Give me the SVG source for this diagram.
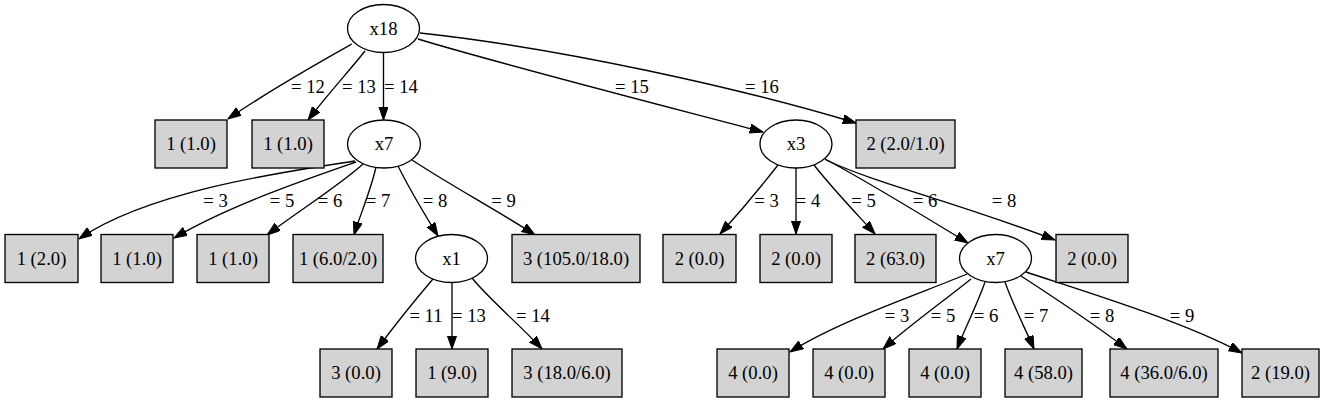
<svg xmlns="http://www.w3.org/2000/svg" width="1328" height="403" viewBox="0 0 1328 403">
<style>
text{font-family:"Liberation Serif","Times New Roman",serif;font-size:18.67px;fill:#000;text-anchor:middle}
.n ellipse{fill:#fff;stroke:#000;stroke-width:1.33}
.n rect{fill:#d3d3d3;stroke:#000;stroke-width:1.33}
#edges path{fill:none;stroke:#000;stroke-width:1.33;marker-end:url(#ah)}
</style>
<defs>
<marker id="ah" markerUnits="userSpaceOnUse" markerWidth="14" markerHeight="10" refX="13.33" refY="4.67" orient="auto">
<path d="M0,0 L13.33,4.67 L0,9.33 z" fill="#000" stroke="#000" stroke-width="1"/>
</marker>
</defs>
<rect width="1328" height="403" fill="#fff"/>
<g id="edges">
<path d="M352,44 C320,62 270,90 228,119"/>
<path d="M365,51 C350,70 327,95 308,120"/>
<path d="M383.5,52.5 L383.5,120"/>
<path d="M418,39 C500,64 680,110 763,132"/>
<path d="M420,33 C560,48 740,88 856,123"/>
<path d="M355,161 C290,171 150,190 79,239"/>
<path d="M356,162 C310,178 230,205 174,238"/>
<path d="M363,164 C340,185 300,210 267,235"/>
<path d="M376,167 C371,190 360,215 354,235"/>
<path d="M398,166 C410,190 425,215 438,236"/>
<path d="M412,160 C450,185 500,212 535,235"/>
<path d="M433,279 C415,300 395,325 377,349"/>
<path d="M452,282.5 L452,349"/>
<path d="M472,278 C490,300 520,325 542,349"/>
<path d="M778,165 C760,188 740,212 720,234"/>
<path d="M796,168 L796,234"/>
<path d="M814,165 C832,188 855,212 875,234"/>
<path d="M825,159 C865,180 930,220 968,243"/>
<path d="M826,160 C880,185 950,200 1055,240"/>
<path d="M967,274 C930,290 840,320 790,352"/>
<path d="M971,279 C945,300 910,325 883,349"/>
<path d="M985,282 C977,305 965,328 957,349"/>
<path d="M1005,282 C1013,305 1025,328 1034,349"/>
<path d="M1021,276 C1055,298 1095,325 1127,349"/>
<path d="M1026,272 C1080,290 1180,320 1242,353"/>
</g>
<g id="edge-labels">
<text x="308" y="93">= 12</text>
<text x="359" y="93">= 13</text>
<text x="401" y="93">= 14</text>
<text x="632" y="93">= 15</text>
<text x="762" y="93">= 16</text>
<text x="215.5" y="207">= 3</text>
<text x="282" y="207">= 5</text>
<text x="330" y="207">= 6</text>
<text x="378" y="207">= 7</text>
<text x="435" y="207">= 8</text>
<text x="503.5" y="207">= 9</text>
<text x="766.5" y="207">= 3</text>
<text x="808" y="207">= 4</text>
<text x="863.5" y="207">= 5</text>
<text x="925" y="207">= 6</text>
<text x="1004" y="207">= 8</text>
<text x="426" y="322">= 11</text>
<text x="469" y="322">= 13</text>
<text x="533" y="322">= 14</text>
<text x="897" y="322">= 3</text>
<text x="943" y="322">= 5</text>
<text x="986" y="322">= 6</text>
<text x="1036" y="322">= 7</text>
<text x="1102" y="322">= 8</text>
<text x="1182" y="322">= 9</text>
</g>
<g id="n_x18" class="n"><ellipse cx="383.5" cy="28.5" rx="36" ry="24"/><text x="383.5" y="34.5">x18</text></g>
<g id="n_l1" class="n"><rect x="155" y="120" width="72" height="48"/><text x="191" y="150">1 (1.0)</text></g>
<g id="n_l2" class="n"><rect x="252" y="120" width="72" height="48"/><text x="288" y="150">1 (1.0)</text></g>
<g id="n_x7a" class="n"><ellipse cx="384" cy="144" rx="36.5" ry="24"/><text x="384" y="150">x7</text></g>
<g id="n_x3" class="n"><ellipse cx="796" cy="144" rx="36" ry="24"/><text x="796" y="150">x3</text></g>
<g id="n_l3" class="n"><rect x="856" y="120" width="99" height="48"/><text x="905.5" y="150">2 (2.0/1.0)</text></g>
<g id="n_l4" class="n"><rect x="5" y="234.5" width="73" height="48"/><text x="41.5" y="264.5">1 (2.0)</text></g>
<g id="n_l5" class="n"><rect x="101" y="234.5" width="72" height="48"/><text x="137" y="264.5">1 (1.0)</text></g>
<g id="n_l6" class="n"><rect x="197" y="234.5" width="72" height="48"/><text x="233" y="264.5">1 (1.0)</text></g>
<g id="n_l7" class="n"><rect x="293" y="234.5" width="90" height="48"/><text x="338" y="264.5">1 (6.0/2.0)</text></g>
<g id="n_x1" class="n"><ellipse cx="451.5" cy="258.5" rx="36" ry="24"/><text x="451.5" y="264.5">x1</text></g>
<g id="n_l8" class="n"><rect x="512" y="234.5" width="128" height="48"/><text x="576" y="264.5">3 (105.0/18.0)</text></g>
<g id="n_l9" class="n"><rect x="663" y="234.5" width="73" height="48"/><text x="699.5" y="264.5">2 (0.0)</text></g>
<g id="n_l10" class="n"><rect x="760" y="234.5" width="72" height="48"/><text x="796" y="264.5">2 (0.0)</text></g>
<g id="n_l11" class="n"><rect x="855" y="234.5" width="81" height="48"/><text x="895.5" y="264.5">2 (63.0)</text></g>
<g id="n_x7b" class="n"><ellipse cx="995.5" cy="258.5" rx="36" ry="24"/><text x="995.5" y="264.5">x7</text></g>
<g id="n_l12" class="n"><rect x="1056" y="234.5" width="72" height="48"/><text x="1092" y="264.5">2 (0.0)</text></g>
<g id="n_l13" class="n"><rect x="320" y="349" width="72" height="48"/><text x="356" y="379">3 (0.0)</text></g>
<g id="n_l14" class="n"><rect x="416" y="349" width="72" height="48"/><text x="452" y="379">1 (9.0)</text></g>
<g id="n_l15" class="n"><rect x="512" y="349" width="110" height="48"/><text x="567" y="379">3 (18.0/6.0)</text></g>
<g id="n_l16" class="n"><rect x="717" y="349" width="72" height="48"/><text x="753" y="379">4 (0.0)</text></g>
<g id="n_l17" class="n"><rect x="813" y="349" width="72" height="48"/><text x="849" y="379">4 (0.0)</text></g>
<g id="n_l18" class="n"><rect x="909" y="349" width="72" height="48"/><text x="945" y="379">4 (0.0)</text></g>
<g id="n_l19" class="n"><rect x="1005" y="349" width="77" height="48"/><text x="1043.5" y="379">4 (58.0)</text></g>
<g id="n_l20" class="n"><rect x="1110" y="349" width="108" height="48"/><text x="1164" y="379">4 (36.0/6.0)</text></g>
<g id="n_l21" class="n"><rect x="1242" y="349" width="77" height="48"/><text x="1280.5" y="379">2 (19.0)</text></g>
</svg>
